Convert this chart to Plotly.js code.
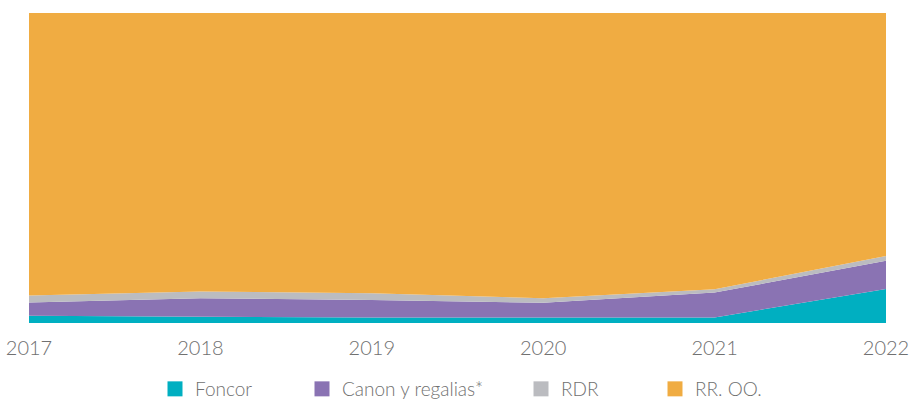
<!DOCTYPE html>
<html>
<head>
<meta charset="utf-8">
<script src="https://cdn.plot.ly/plotly-3.0.1.min.js"></script>
<style>
  html, body { margin: 0; padding: 0; background: #fff; }
  #chart { width: 912px; height: 399px; }
</style>
</head>
<body>
<div id="chart"></div>
<script>
// Shares of each funding source per year (percent of total)
const years = [2017, 2018, 2019, 2020, 2021, 2022];
const foncor = [2.3, 2.0, 1.8, 1.8, 1.8, 11.0];
const canon = [4.3, 6.0, 5.6, 4.7, 8.0, 9.1];
const rdr = [2.3, 2.2, 2.2, 1.5, 1.1, 1.5];
const rroo = [91.1, 89.8, 90.4, 92.0, 89.1, 78.4];

const seriesNames = ['Foncor', 'Canon y regalias*', 'RDR', 'RR. OO.'];
const seriesValues = [foncor, canon, rdr, rroo];
const seriesColors = ['#00AFC1', '#8A73B3', '#BBBCC0', '#F0AC42'];
const legendIds = ['legend', 'legend2', 'legend3', 'legend4'];
const legendX = [155, 302, 521, 655];

const traces = [];
seriesValues.forEach((vals, i) => {
  traces.push({
    type: 'scatter',
    mode: 'lines',
    x: years,
    y: vals,
    name: seriesNames[i],
    stackgroup: 'share',
    groupnorm: i === 0 ? 'percent' : undefined,
    line: { width: 0, color: seriesColors[i] },
    fillcolor: seriesColors[i],
    showlegend: false,
    hoverinfo: 'x+y+name'
  });
});
// Square swatches for the legend row
seriesValues.forEach((vals, i) => {
  traces.push({
    type: 'scatter',
    mode: 'markers',
    x: [null],
    y: [null],
    name: seriesNames[i],
    legend: legendIds[i],
    marker: { symbol: 'square', size: 15, color: seriesColors[i] },
    showlegend: true
  });
});

const textFont = { family: 'Lato, "Open Sans", sans-serif', weight: 300, color: '#707070' };
const layout = {
  width: 912,
  height: 399,
  margin: { l: 29, r: 26, t: 13, b: 76 },
  paper_bgcolor: '#ffffff',
  plot_bgcolor: '#ffffff',
  showlegend: true,
  xaxis: {
    range: [2017, 2022],
    tickvals: years,
    ticktext: years.map(String),
    showgrid: false,
    zeroline: false,
    showline: false,
    ticks: '',
    tickfont: Object.assign({ size: 20 }, textFont),
    ticklabelstandoff: 11
  },
  yaxis: {
    range: [0, 100],
    showgrid: false,
    zeroline: false,
    showline: false,
    showticklabels: false,
    ticks: ''
  }
};
legendIds.forEach((id, i) => {
  layout[id] = {
    orientation: 'h',
    xref: 'container',
    yref: 'container',
    x: legendX[i] / 912,
    y: 10 / 399,
    xanchor: 'left',
    yanchor: 'middle',
    font: Object.assign({ size: 19 }, textFont),
    bgcolor: 'rgba(0,0,0,0)',
    itemclick: false,
    itemdoubleclick: false
  };
});

Plotly.newPlot('chart', traces, layout, { displayModeBar: false, staticPlot: true });
</script>
</body>
</html>
